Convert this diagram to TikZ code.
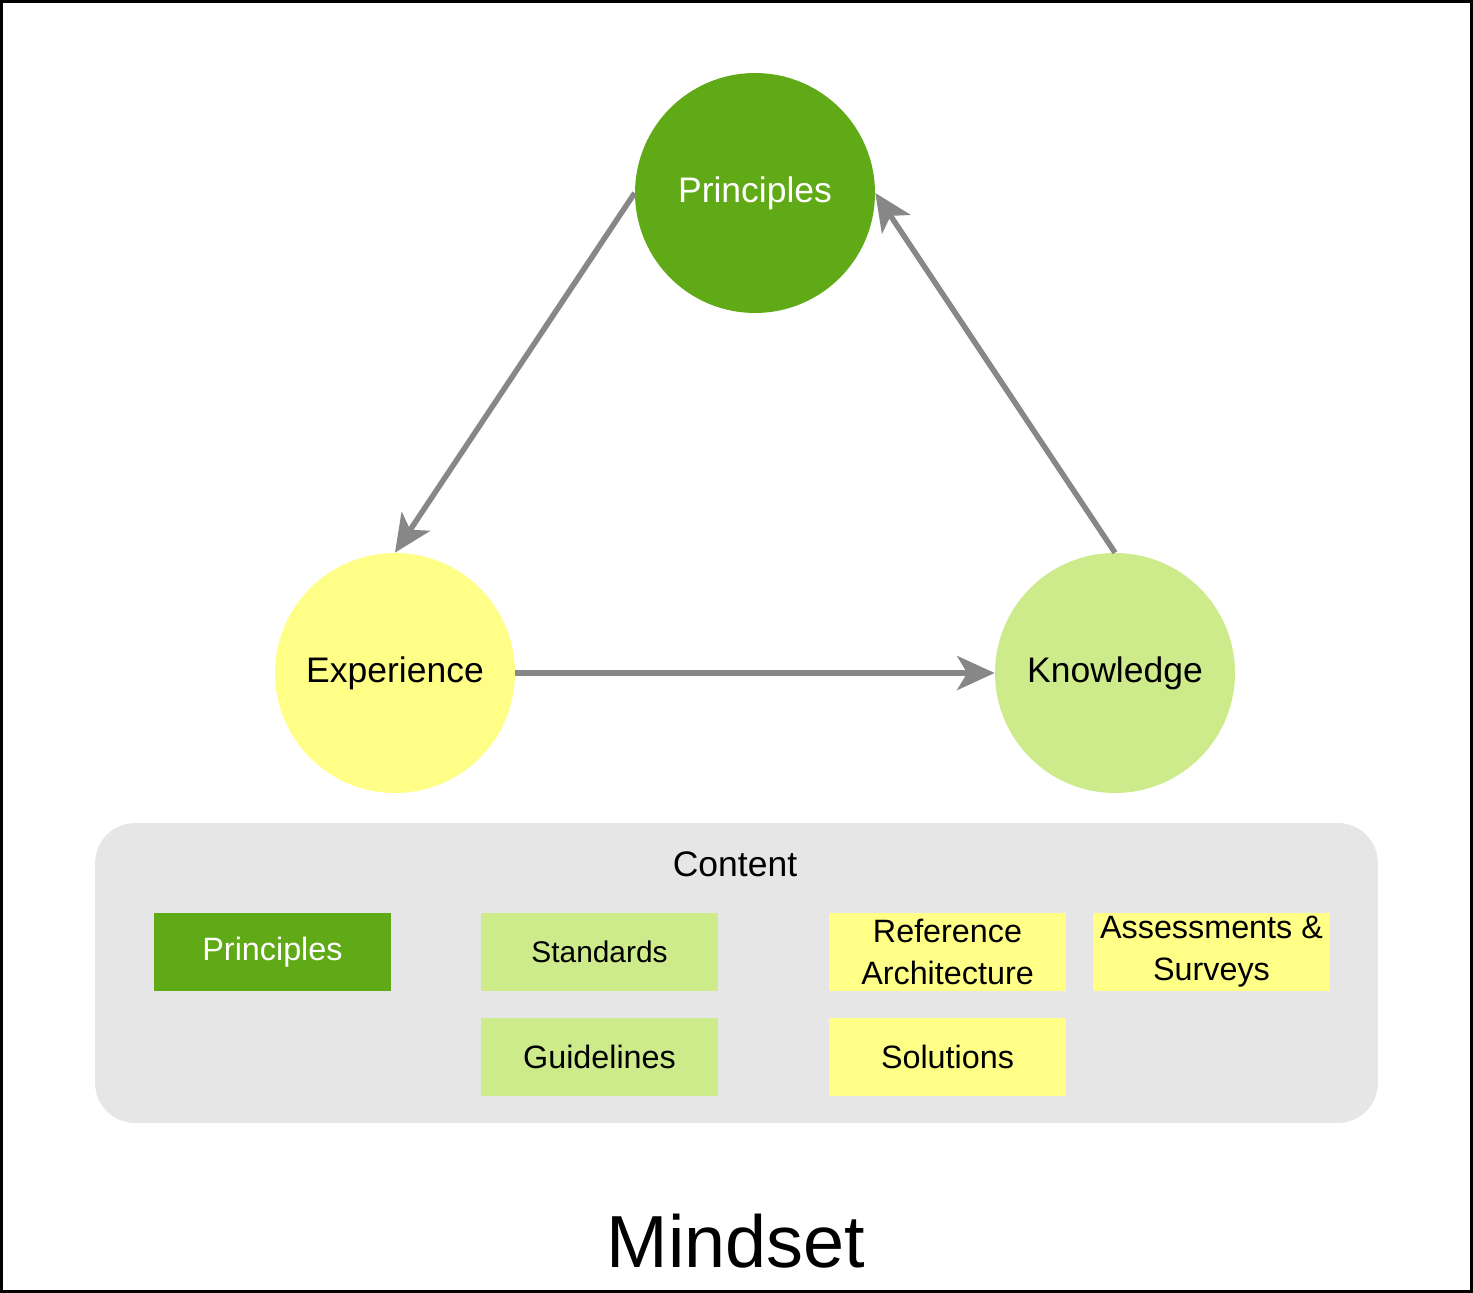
\documentclass[tikz,border=0pt]{standalone}
\usepackage{fontspec}
\setmainfont{Liberation Sans}
\usepackage{tikz}
\usetikzlibrary{arrows.meta}
\definecolor{darkGreen}{HTML}{60A917}
\definecolor{lightGreen}{HTML}{CDEB8B}
\definecolor{paleYellow}{HTML}{FFFF88}
\definecolor{contentGrey}{HTML}{E6E6E6}
\definecolor{arrowGrey}{HTML}{878787}
\tikzstyle{mCircle} = [circle, minimum size=4.8cm, inner sep=0pt, text centered, font=\fontsize{20.2}{24}\selectfont]
\tikzstyle{mBox} = [rectangle, minimum width=4.74cm, minimum height=1.56cm, inner sep=0pt, text centered, align=center, font=\fontsize{18.4}{23.8}\selectfont]
\tikzstyle{mArrow} = [line width=0.11cm, draw=arrowGrey, -{Stealth[length=0.75cm, width=0.68cm, inset=0.2cm]}]

\begin{document}
\begin{tikzpicture}[x=0.02cm, y=-0.02cm]
    \useasboundingbox (0,0) rectangle (1473,1293);
    \draw [line width=0.06cm] (1.5,1.5) rectangle (1471.5,1291.5);

    % the cycle
    \node (principles) [mCircle, fill=darkGreen, text=white] at (755,193) {Principles};
    \node (experience) [mCircle, fill=paleYellow] at (395,673) {Experience};
    \node (knowledge) [mCircle, fill=lightGreen] at (1115,673) {Knowledge};

    \draw [mArrow] (principles.west) -- (experience.north);
    \draw [mArrow] (experience.east) -- (knowledge.west);
    \draw [mArrow] (knowledge.north) -- (principles.east);

    % content panel
    \node (content) [rectangle, rounded corners=0.8cm, fill=contentGrey, minimum width=25.66cm, minimum height=6cm] at (736.5,973) {};
    \node (contentlabel) [anchor=base, font=\fontsize{20.2}{24}\selectfont] at (735,876) {Content};

    \node (boxprinciples) [mBox, fill=darkGreen, text=white] at (272.5,952) {Principles};
    \node (standards) [mBox, fill=lightGreen, font=\fontsize{17}{20}\selectfont] at (599.5,952) {Standards};
    \node (guidelines) [mBox, fill=lightGreen] at (599.5,1057) {Guidelines};
    \node (refarch) [mBox, fill=paleYellow] at (947.5,952) {Reference\\Architecture};
    \node (assessments) [mBox, fill=paleYellow] at (1211.5,952) {Assessments \&\\Surveys};
    \node (solutions) [mBox, fill=paleYellow] at (947.5,1057) {Solutions};

    \node (mindset) [anchor=base, font=\fontsize{42}{48}\selectfont] at (736,1267) {Mindset};
\end{tikzpicture}
\end{document}
